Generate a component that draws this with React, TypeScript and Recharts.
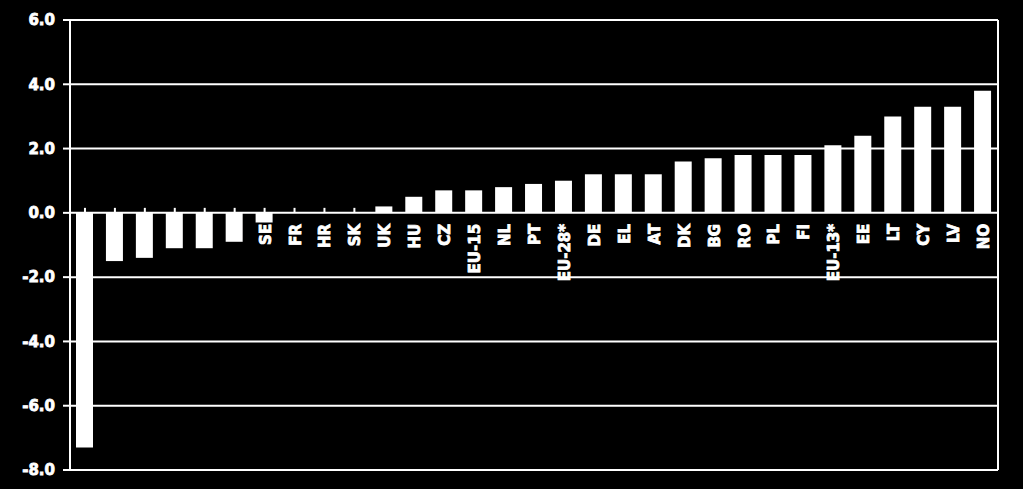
import React from "react";
import { BarChart, Bar, XAxis, YAxis, CartesianGrid } from "recharts";

const countries = [
  "LU", "ES", "IT", "SI", "MT", "IE", "SE", "FR", "HR", "SK", "UK", "HU", "CZ", "EU-15", "NL", "PT",
  "EU-28*", "DE", "EL", "AT", "DK", "BG", "RO", "PL", "FI", "EU-13*", "EE", "LT", "CY", "LV", "NO",
];
const change = [
  -7.3, -1.5, -1.4, -1.1, -1.1, -0.9, -0.3, 0, 0, 0, 0.2, 0.5, 0.7, 0.7, 0.8, 0.9,
  1.0, 1.2, 1.2, 1.2, 1.6, 1.7, 1.8, 1.8, 1.8, 2.1, 2.4, 3.0, 3.3, 3.3, 3.8,
];
const yTicks = [-8, -6, -4, -2, 0, 2, 4, 6];

const data = countries.map((c, i) => ({ name: c, value: change[i] }));

const W = 1023;
const H = 489;
const M = { top: 20, right: 24, bottom: 18, left: 0 };
const X_AXIS_H = 1;
const PLOT_H = H - M.top - M.bottom - X_AXIS_H;
const Y_MIN = -8;
const Y_MAX = 6;
const FONT = "'DejaVu Sans', sans-serif";

// category labels sit on the zero line, not at the bottom of the plot
function CategoryTick(props: any) {
  const { x, y, payload } = props;
  const zeroY = y - (PLOT_H * (0 - Y_MIN)) / (Y_MAX - Y_MIN);
  return (
    <g>
      <line x1={x} x2={x} y1={zeroY - 5} y2={zeroY} stroke="#fff" strokeWidth={2} />
      <text
        x={x + 6}
        y={zeroY + 11}
        transform={`rotate(-90, ${x + 6}, ${zeroY + 11})`}
        textAnchor="end"
        fill="#fff"
        stroke="#fff"
        strokeWidth={0.8}
        fontFamily={FONT}
        fontWeight="bold"
        fontSize={15}
      >
        {payload.value}
      </text>
    </g>
  );
}

export default function App() {
  return (
    <div style={{ width: W, height: H, background: "#000" }}>
      <style>{`body{margin:0;background:#000}`}</style>
      <BarChart width={W} height={H} data={data} margin={M} barCategoryGap="41%">
        <CartesianGrid vertical={false} stroke="#fff" strokeWidth={2} />
        <XAxis
          dataKey="name"
          height={X_AXIS_H}
          axisLine={false}
          tickLine={false}
          tickSize={0}
          tickMargin={0}
          interval={0}
          tick={<CategoryTick />}
        />
        <YAxis
          domain={[Y_MIN, Y_MAX]}
          ticks={yTicks}
          width={70}
          tickSize={7}
          tickMargin={8}
          axisLine={{ stroke: "#fff", strokeWidth: 2 }}
          tickLine={{ stroke: "#fff", strokeWidth: 2 }}
          tickFormatter={(v) => Number(v).toFixed(1)}
          tick={{ fill: "#fff", stroke: "#fff", strokeWidth: 0.8, fontFamily: FONT, fontWeight: "bold", fontSize: 15 }}
        />
        <YAxis
          yAxisId="border"
          orientation="right"
          domain={[Y_MIN, Y_MAX]}
          width={1}
          tick={false}
          tickLine={false}
          axisLine={{ stroke: "#fff", strokeWidth: 2 }}
        />
        <Bar dataKey="value" fill="#fff" barSize={17} isAnimationActive={false} />
      </BarChart>
    </div>
  );
}
